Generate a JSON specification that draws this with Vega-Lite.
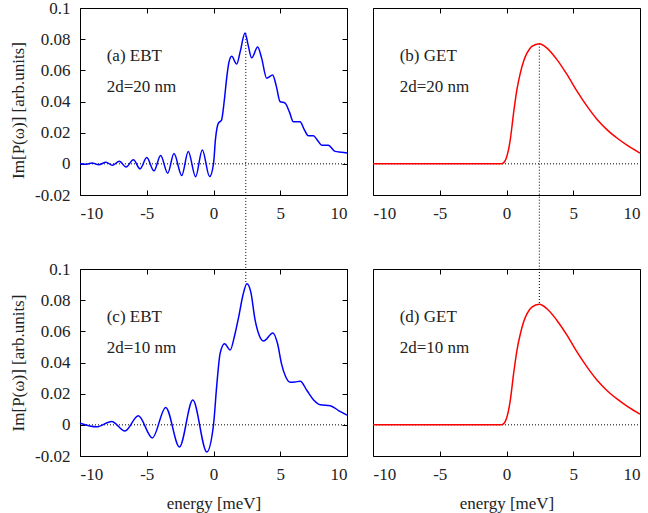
{
  "$schema": "https://vega.github.io/schema/vega-lite/v6.json",
  "background": "white",
  "padding": {"left": 9, "top": -2, "right": 5, "bottom": 5},
  "config": {
    "view": {"stroke": "black", "strokeWidth": 1},
    "style": {"guide-label": {"font": "Liberation Serif", "fontSize": 17, "fill": "#222"}, "guide-title": {"font": "Liberation Serif", "fontSize": 17, "fontWeight": "normal", "fill": "#222"}},
    "axis": {"labelFont": "Liberation Serif", "labelFontSize": 17, "labelColor": "#222", "titleFont": "Liberation Serif", "titleFontSize": 17, "titleFontWeight": "normal", "titleColor": "#222", "grid": false, "domain": false, "tickSize": -5, "tickColor": "black", "tickWidth": 1, "labelPadding": 15, "titlePadding": 7},
    "axisX": {"titlePadding": 13},
    "text": {"font": "Liberation Serif", "fontSize": 17, "color": "#222"}
  },
  "datasets": {
    "curves": [
      {"panel": "a", "x": -10, "y": 0.0},
      {"panel": "a", "x": -9.6, "y": -0.0003},
      {"panel": "a", "x": -9.1, "y": 0.0005},
      {"panel": "a", "x": -8.6, "y": -0.0006},
      {"panel": "a", "x": -8.05, "y": 0.001},
      {"panel": "a", "x": -7.58, "y": -0.0009},
      {"panel": "a", "x": -7.05, "y": 0.0017},
      {"panel": "a", "x": -6.55, "y": -0.0021},
      {"panel": "a", "x": -6.0, "y": 0.0026},
      {"panel": "a", "x": -5.5, "y": -0.0032},
      {"panel": "a", "x": -5.0, "y": 0.004},
      {"panel": "a", "x": -4.46, "y": -0.0045},
      {"panel": "a", "x": -3.96, "y": 0.0053},
      {"panel": "a", "x": -3.43, "y": -0.006},
      {"panel": "a", "x": -2.96, "y": 0.0066},
      {"panel": "a", "x": -2.38, "y": -0.0075},
      {"panel": "a", "x": -1.89, "y": 0.0079},
      {"panel": "a", "x": -1.34, "y": -0.0083},
      {"panel": "a", "x": -0.84, "y": 0.0088},
      {"panel": "a", "x": -0.29, "y": -0.0082},
      {"panel": "a", "x": 0.0, "y": 0.0},
      {"panel": "a", "x": 0.15, "y": 0.016},
      {"panel": "a", "x": 0.36, "y": 0.026},
      {"panel": "a", "x": 0.6, "y": 0.028},
      {"panel": "a", "x": 0.8, "y": 0.04},
      {"panel": "a", "x": 1.0, "y": 0.056},
      {"panel": "a", "x": 1.15, "y": 0.065},
      {"panel": "a", "x": 1.36, "y": 0.069},
      {"panel": "a", "x": 1.74, "y": 0.064},
      {"panel": "a", "x": 2.0, "y": 0.072},
      {"panel": "a", "x": 2.36, "y": 0.084},
      {"panel": "a", "x": 2.6, "y": 0.076},
      {"panel": "a", "x": 2.86, "y": 0.068},
      {"panel": "a", "x": 3.31, "y": 0.075},
      {"panel": "a", "x": 3.6, "y": 0.068},
      {"panel": "a", "x": 3.98, "y": 0.055},
      {"panel": "a", "x": 4.43, "y": 0.057},
      {"panel": "a", "x": 4.7, "y": 0.05},
      {"panel": "a", "x": 4.98, "y": 0.04},
      {"panel": "a", "x": 5.36, "y": 0.039},
      {"panel": "a", "x": 5.7, "y": 0.033},
      {"panel": "a", "x": 5.98, "y": 0.027},
      {"panel": "a", "x": 6.48, "y": 0.027},
      {"panel": "a", "x": 6.8, "y": 0.022},
      {"panel": "a", "x": 7.1, "y": 0.018},
      {"panel": "a", "x": 7.48, "y": 0.018},
      {"panel": "a", "x": 7.8, "y": 0.015},
      {"panel": "a", "x": 8.1, "y": 0.012},
      {"panel": "a", "x": 8.6, "y": 0.012},
      {"panel": "a", "x": 9.1, "y": 0.008},
      {"panel": "a", "x": 9.6, "y": 0.0075},
      {"panel": "a", "x": 10, "y": 0.007},

      {"panel": "c", "x": -10, "y": 0.001},
      {"panel": "c", "x": -8.75, "y": -0.0013},
      {"panel": "c", "x": -7.63, "y": 0.0022},
      {"panel": "c", "x": -6.63, "y": -0.0039},
      {"panel": "c", "x": -5.63, "y": 0.0058},
      {"panel": "c", "x": -4.58, "y": -0.0084},
      {"panel": "c", "x": -3.58, "y": 0.0112},
      {"panel": "c", "x": -2.55, "y": -0.0142},
      {"panel": "c", "x": -1.55, "y": 0.0159},
      {"panel": "c", "x": -0.5, "y": -0.0174},
      {"panel": "c", "x": 0.0, "y": 0.0},
      {"panel": "c", "x": 0.25, "y": 0.026},
      {"panel": "c", "x": 0.5, "y": 0.046},
      {"panel": "c", "x": 0.83, "y": 0.052},
      {"panel": "c", "x": 1.25, "y": 0.048},
      {"panel": "c", "x": 1.6, "y": 0.058},
      {"panel": "c", "x": 1.88, "y": 0.069},
      {"panel": "c", "x": 2.2, "y": 0.083},
      {"panel": "c", "x": 2.5, "y": 0.0905},
      {"panel": "c", "x": 2.8, "y": 0.085},
      {"panel": "c", "x": 3.1, "y": 0.068},
      {"panel": "c", "x": 3.4, "y": 0.058},
      {"panel": "c", "x": 3.75, "y": 0.0538},
      {"panel": "c", "x": 4.45, "y": 0.059},
      {"panel": "c", "x": 4.8, "y": 0.052},
      {"panel": "c", "x": 5.1, "y": 0.039},
      {"panel": "c", "x": 5.4, "y": 0.031},
      {"panel": "c", "x": 5.75, "y": 0.0273},
      {"panel": "c", "x": 6.1, "y": 0.0275},
      {"panel": "c", "x": 6.5, "y": 0.028},
      {"panel": "c", "x": 7.0, "y": 0.022},
      {"panel": "c", "x": 7.5, "y": 0.016},
      {"panel": "c", "x": 8.0, "y": 0.0129},
      {"panel": "c", "x": 8.75, "y": 0.0123},
      {"panel": "c", "x": 9.4, "y": 0.009},
      {"panel": "c", "x": 10, "y": 0.0062},

      {"panel": "b", "x": -10, "y": 0.0},
      {"panel": "b", "x": -0.4, "y": 0.0},
      {"panel": "b", "x": -0.2, "y": 0.0008},
      {"panel": "b", "x": 0.0, "y": 0.004},
      {"panel": "b", "x": 0.28, "y": 0.0154},
      {"panel": "b", "x": 0.53, "y": 0.0326},
      {"panel": "b", "x": 0.78, "y": 0.0476},
      {"panel": "b", "x": 1.03, "y": 0.058},
      {"panel": "b", "x": 1.28, "y": 0.0658},
      {"panel": "b", "x": 1.53, "y": 0.071},
      {"panel": "b", "x": 1.9, "y": 0.0754},
      {"panel": "b", "x": 2.46, "y": 0.0771},
      {"panel": "b", "x": 3.03, "y": 0.0743},
      {"panel": "b", "x": 3.78, "y": 0.0669},
      {"panel": "b", "x": 4.54, "y": 0.0572},
      {"panel": "b", "x": 5.29, "y": 0.0465},
      {"panel": "b", "x": 6.04, "y": 0.0369},
      {"panel": "b", "x": 6.79, "y": 0.0285},
      {"panel": "b", "x": 7.54, "y": 0.0218},
      {"panel": "b", "x": 8.3, "y": 0.0164},
      {"panel": "b", "x": 9.05, "y": 0.0118},
      {"panel": "b", "x": 10, "y": 0.0069},

      {"panel": "d", "x": -10, "y": 0.0},
      {"panel": "d", "x": -0.4, "y": 0.0},
      {"panel": "d", "x": -0.2, "y": 0.0008},
      {"panel": "d", "x": 0.0, "y": 0.004},
      {"panel": "d", "x": 0.28, "y": 0.0155},
      {"panel": "d", "x": 0.53, "y": 0.0327},
      {"panel": "d", "x": 0.78, "y": 0.0477},
      {"panel": "d", "x": 1.03, "y": 0.0581},
      {"panel": "d", "x": 1.28, "y": 0.066},
      {"panel": "d", "x": 1.53, "y": 0.0712},
      {"panel": "d", "x": 1.9, "y": 0.0756},
      {"panel": "d", "x": 2.46, "y": 0.0773},
      {"panel": "d", "x": 3.03, "y": 0.0745},
      {"panel": "d", "x": 3.78, "y": 0.067},
      {"panel": "d", "x": 4.54, "y": 0.0574},
      {"panel": "d", "x": 5.29, "y": 0.0466},
      {"panel": "d", "x": 6.04, "y": 0.037},
      {"panel": "d", "x": 6.79, "y": 0.0286},
      {"panel": "d", "x": 7.54, "y": 0.0219},
      {"panel": "d", "x": 8.3, "y": 0.0165},
      {"panel": "d", "x": 9.05, "y": 0.0119},
      {"panel": "d", "x": 10, "y": 0.0069}
    ],
    "zero": [
      {"panel": "a", "x": -10, "x2": 10, "y": 0},
      {"panel": "b", "x": -10, "x2": 10, "y": 0},
      {"panel": "c", "x": -10, "x2": 10, "y": 0},
      {"panel": "d", "x": -10, "x2": 10, "y": 0}
    ],
    "vlines": [
      {"panel": "a", "x": 2.42, "y": 0.084, "y2": -0.0675},
      {"panel": "b", "x": 2.46, "y": 0.0771, "y2": -0.0675},
      {"panel": "c", "x": 2.42, "y": 0.1, "y2": 0.0905},
      {"panel": "d", "x": 2.46, "y": 0.1, "y2": 0.0773}
    ],
    "labels": [
      {"panel": "a", "x": -8, "y": 0.069, "label": "(a) EBT"},
      {"panel": "a", "x": -8, "y": 0.0495, "label": "2d=20 nm"},
      {"panel": "b", "x": -8, "y": 0.069, "label": "(b) GET"},
      {"panel": "b", "x": -8, "y": 0.0495, "label": "2d=20 nm"},
      {"panel": "c", "x": -8, "y": 0.069, "label": "(c) EBT"},
      {"panel": "c", "x": -8, "y": 0.0495, "label": "2d=10 nm"},
      {"panel": "d", "x": -8, "y": 0.069, "label": "(d) GET"},
      {"panel": "d", "x": -8, "y": 0.0495, "label": "2d=10 nm"}
    ]
  },
  "bounds": "flush",
  "columns": 2,
  "spacing": {"row": 74, "column": 26},
  "resolve": {"scale": {"x": "independent", "y": "independent"}},
  "concat": [
    {
      "width": 267, "height": 187,
      "layer": [
        {
          "encoding": {
            "x": {"field": "x", "type": "quantitative", "scale": {"domain": [-10, 10], "nice": false}, "axis": {"values": [-10, -5, 0, 5, 10], "format": "~f", "labelExpr": "replace(datum.label,'\u2212','-')", "title": null, "labelFont": "Liberation Serif"}},
            "y": {"field": "y", "type": "quantitative", "scale": {"domain": [-0.02, 0.1], "nice": false}, "axis": {"values": [-0.02, 0, 0.02, 0.04, 0.06, 0.08, 0.1], "format": "~f", "labelExpr": "replace(datum.label,'\u2212','-')", "title": "Im[P(ω)] [arb.units]", "titleY": 102, "labelFont": "Liberation Serif"}}
          },
          "layer": [
            {"data": {"name": "zero"}, "transform": [{"filter": "datum.panel === 'a'"}], "mark": {"type": "rule", "color": "black", "strokeWidth": 1, "strokeDash": [1, 2]}, "encoding": {"x2": {"field": "x2"}}},
            {"data": {"name": "vlines"}, "transform": [{"filter": "datum.panel === 'a'"}], "mark": {"type": "rule", "color": "black", "strokeWidth": 1, "strokeDash": [1, 2]}, "encoding": {"y2": {"field": "y2"}}},
            {"data": {"name": "curves"}, "transform": [{"filter": "datum.panel === 'a'"}], "mark": {"type": "line", "color": "#0000ff", "strokeWidth": 1.5, "interpolate": "monotone"}},
            {"data": {"name": "labels"}, "transform": [{"filter": "datum.panel === 'a'"}], "mark": {"type": "text", "align": "left", "baseline": "middle"}, "encoding": {"text": {"field": "label"}}}
          ]
        },
        {
          "data": {"name": "zero"}, "transform": [{"filter": "datum.panel === 'a'"}],
          "mark": {"type": "point", "opacity": 0},
          "encoding": {
            "x": {"field": "x", "type": "quantitative", "scale": {"domain": [-10, 10], "nice": false}, "axis": {"orient": "top", "values": [-10, -5, 0, 5, 10], "labels": false, "title": null}},
            "y": {"field": "y", "type": "quantitative", "scale": {"domain": [-0.02, 0.1], "nice": false}, "axis": {"orient": "right", "values": [-0.02, 0, 0.02, 0.04, 0.06, 0.08, 0.1], "labels": false, "title": null}}
          }
        }
      ],
      "resolve": {"scale": {"x": "independent", "y": "independent"}}
    },
    {
      "width": 267, "height": 187,
      "layer": [
        {
          "encoding": {
            "x": {"field": "x", "type": "quantitative", "scale": {"domain": [-10, 10], "nice": false}, "axis": {"values": [-10, -5, 0, 5, 10], "format": "~f", "labelExpr": "replace(datum.label,'\u2212','-')", "title": null, "labelFont": "Liberation Serif"}},
            "y": {"field": "y", "type": "quantitative", "scale": {"domain": [-0.02, 0.1], "nice": false}, "axis": null}
          },
          "layer": [
            {"data": {"name": "zero"}, "transform": [{"filter": "datum.panel === 'b'"}], "mark": {"type": "rule", "color": "black", "strokeWidth": 1, "strokeDash": [1, 2]}, "encoding": {"x2": {"field": "x2"}}},
            {"data": {"name": "vlines"}, "transform": [{"filter": "datum.panel === 'b'"}], "mark": {"type": "rule", "color": "black", "strokeWidth": 1, "strokeDash": [1, 2]}, "encoding": {"y2": {"field": "y2"}}},
            {"data": {"name": "curves"}, "transform": [{"filter": "datum.panel === 'b'"}], "mark": {"type": "line", "color": "#ff0000", "strokeWidth": 1.5, "interpolate": "monotone"}},
            {"data": {"name": "labels"}, "transform": [{"filter": "datum.panel === 'b'"}], "mark": {"type": "text", "align": "left", "baseline": "middle"}, "encoding": {"text": {"field": "label"}}}
          ]
        },
        {
          "data": {"name": "zero"}, "transform": [{"filter": "datum.panel === 'b'"}],
          "mark": {"type": "point", "opacity": 0},
          "encoding": {
            "x": {"field": "x", "type": "quantitative", "scale": {"domain": [-10, 10], "nice": false}, "axis": {"orient": "top", "values": [-10, -5, 0, 5, 10], "labels": false, "title": null}},
            "y": {"field": "y", "type": "quantitative", "scale": {"domain": [-0.02, 0.1], "nice": false}, "axis": null}
          }
        }
      ],
      "resolve": {"scale": {"x": "independent", "y": "independent"}}
    },
    {
      "width": 267, "height": 187,
      "layer": [
        {
          "encoding": {
            "x": {"field": "x", "type": "quantitative", "scale": {"domain": [-10, 10], "nice": false}, "axis": {"values": [-10, -5, 0, 5, 10], "format": "~f", "labelExpr": "replace(datum.label,'\u2212','-')", "title": "energy [meV]", "labelFont": "Liberation Serif"}},
            "y": {"field": "y", "type": "quantitative", "scale": {"domain": [-0.02, 0.1], "nice": false}, "axis": {"values": [-0.02, 0, 0.02, 0.04, 0.06, 0.08, 0.1], "format": "~f", "labelExpr": "replace(datum.label,'\u2212','-')", "title": "Im[P(ω)] [arb.units]", "labelFont": "Liberation Serif"}}
          },
          "layer": [
            {"data": {"name": "zero"}, "transform": [{"filter": "datum.panel === 'c'"}], "mark": {"type": "rule", "color": "black", "strokeWidth": 1, "strokeDash": [1, 2]}, "encoding": {"x2": {"field": "x2"}}},
            {"data": {"name": "vlines"}, "transform": [{"filter": "datum.panel === 'c'"}], "mark": {"type": "rule", "color": "black", "strokeWidth": 1, "strokeDash": [1, 2]}, "encoding": {"y2": {"field": "y2"}}},
            {"data": {"name": "curves"}, "transform": [{"filter": "datum.panel === 'c'"}], "mark": {"type": "line", "color": "#0000ff", "strokeWidth": 1.5, "interpolate": "monotone"}},
            {"data": {"name": "labels"}, "transform": [{"filter": "datum.panel === 'c'"}], "mark": {"type": "text", "align": "left", "baseline": "middle"}, "encoding": {"text": {"field": "label"}}}
          ]
        },
        {
          "data": {"name": "zero"}, "transform": [{"filter": "datum.panel === 'c'"}],
          "mark": {"type": "point", "opacity": 0},
          "encoding": {
            "x": {"field": "x", "type": "quantitative", "scale": {"domain": [-10, 10], "nice": false}, "axis": {"orient": "top", "values": [-10, -5, 0, 5, 10], "labels": false, "title": null}},
            "y": {"field": "y", "type": "quantitative", "scale": {"domain": [-0.02, 0.1], "nice": false}, "axis": {"orient": "right", "values": [-0.02, 0, 0.02, 0.04, 0.06, 0.08, 0.1], "labels": false, "title": null}}
          }
        }
      ],
      "resolve": {"scale": {"x": "independent", "y": "independent"}}
    },
    {
      "width": 267, "height": 187,
      "layer": [
        {
          "encoding": {
            "x": {"field": "x", "type": "quantitative", "scale": {"domain": [-10, 10], "nice": false}, "axis": {"values": [-10, -5, 0, 5, 10], "format": "~f", "labelExpr": "replace(datum.label,'\u2212','-')", "title": "energy [meV]", "labelFont": "Liberation Serif"}},
            "y": {"field": "y", "type": "quantitative", "scale": {"domain": [-0.02, 0.1], "nice": false}, "axis": null}
          },
          "layer": [
            {"data": {"name": "zero"}, "transform": [{"filter": "datum.panel === 'd'"}], "mark": {"type": "rule", "color": "black", "strokeWidth": 1, "strokeDash": [1, 2]}, "encoding": {"x2": {"field": "x2"}}},
            {"data": {"name": "vlines"}, "transform": [{"filter": "datum.panel === 'd'"}], "mark": {"type": "rule", "color": "black", "strokeWidth": 1, "strokeDash": [1, 2]}, "encoding": {"y2": {"field": "y2"}}},
            {"data": {"name": "curves"}, "transform": [{"filter": "datum.panel === 'd'"}], "mark": {"type": "line", "color": "#ff0000", "strokeWidth": 1.5, "interpolate": "monotone"}},
            {"data": {"name": "labels"}, "transform": [{"filter": "datum.panel === 'd'"}], "mark": {"type": "text", "align": "left", "baseline": "middle"}, "encoding": {"text": {"field": "label"}}}
          ]
        },
        {
          "data": {"name": "zero"}, "transform": [{"filter": "datum.panel === 'd'"}],
          "mark": {"type": "point", "opacity": 0},
          "encoding": {
            "x": {"field": "x", "type": "quantitative", "scale": {"domain": [-10, 10], "nice": false}, "axis": {"orient": "top", "values": [-10, -5, 0, 5, 10], "labels": false, "title": null}},
            "y": {"field": "y", "type": "quantitative", "scale": {"domain": [-0.02, 0.1], "nice": false}, "axis": null}
          }
        }
      ],
      "resolve": {"scale": {"x": "independent", "y": "independent"}}
    }
  ]
}
